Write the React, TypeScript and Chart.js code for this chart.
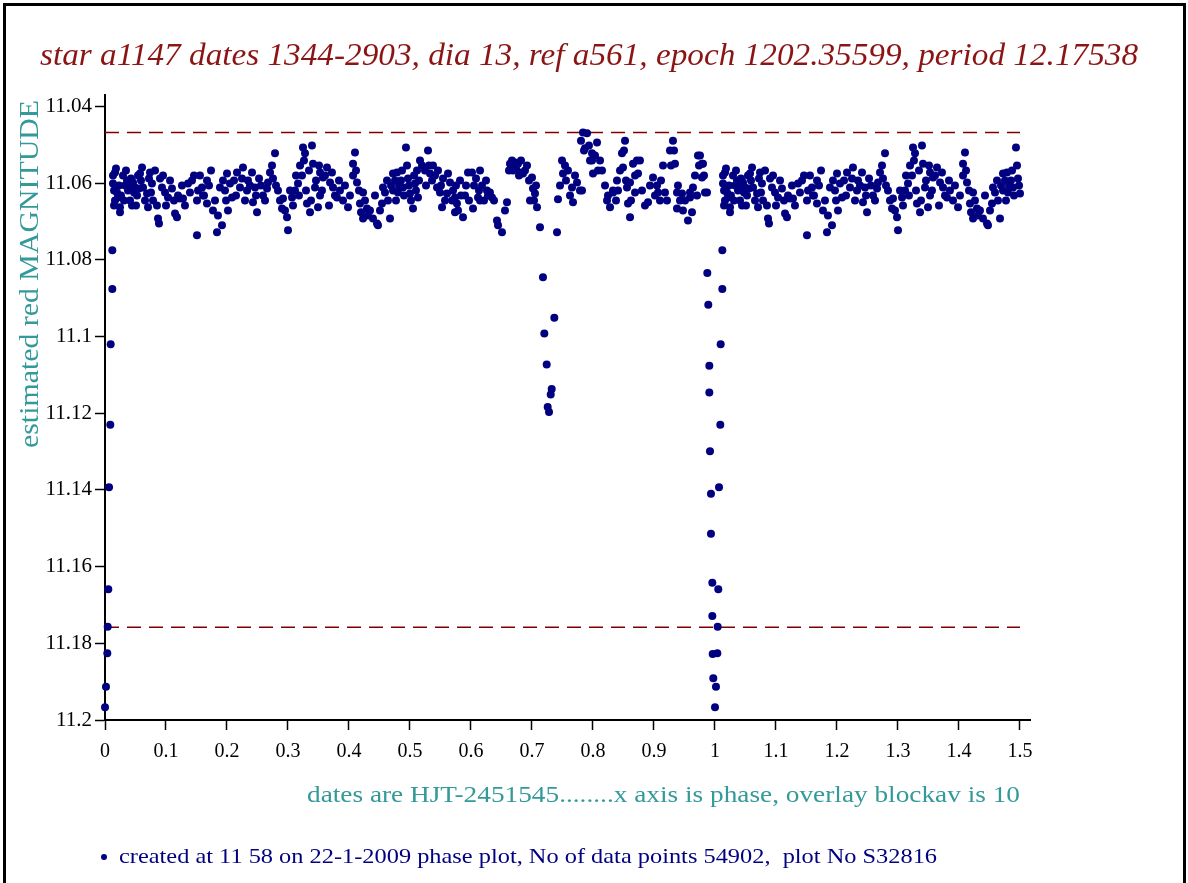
import React, { useEffect, useRef } from 'react';
import { Chart, registerables } from 'chart.js';

Chart.register(...registerables);

// ---------- text ----------
const titleText = 'star a1147 dates 1344-2903, dia 13, ref a561, epoch 1202.35599, period 12.17538';
const yAxisTitle = 'estimated red MAGNITUDE';
const xAxisTitle = 'dates are HJT-2451545........x axis is phase, overlay blockav is 10';
const footerText = 'created at 11 58 on 22-1-2009 phase plot, No of data points 54902,  plot No S32816';

// ---------- ticks ----------
const xTickValues = [0, 0.1, 0.2, 0.3, 0.4, 0.5, 0.6, 0.7, 0.8, 0.9, 1, 1.1, 1.2, 1.3, 1.4, 1.5];
const xTickLabels = ['0', '0.1', '0.2', '0.3', '0.4', '0.5', '0.6', '0.7', '0.8', '0.9', '1', '1.1', '1.2', '1.3', '1.4', '1.5'];
const yTickValues = [11.04, 11.06, 11.08, 11.1, 11.12, 11.14, 11.16, 11.18, 11.2];
const yTickLabels = ['11.04', '11.06', '11.08', '11.1', '11.12', '11.14', '11.16', '11.18', '11.2'];

// ---------- reference lines ----------
const upperLimit = 11.0468;
const lowerLimit = 11.1758;
const limitSpan = [0, 1.5];

// ---------- phase data (phase, magnitude), phase 0..1 ----------
const bandA: [number, number][] = [
  [0.0164, 11.0572], [0.0131, 11.0601], [0.0197, 11.0624], [0.0213, 11.0637], [0.0246, 11.0663], [0.0246, 11.0676],
  [0.0295, 11.058], [0.0328, 11.0606], [0.0361, 11.0593], [0.0377, 11.0619], [0.041, 11.0645], [0.0443, 11.0658],
  [0.0459, 11.0598], [0.0492, 11.0611], [0.0525, 11.0632], [0.0607, 11.0559], [0.0574, 11.0575], [0.0623, 11.0611],
  [0.0689, 11.0627], [0.0738, 11.0572], [0.077, 11.0601], [0.0787, 11.0645], [0.0705, 11.0663], [0.0869, 11.0692],
  [0.0885, 11.0705], [0.0902, 11.0588], [0.0934, 11.0611], [0.0984, 11.0624], [0.1033, 11.0637], [0.1098, 11.0614],
  [0.1148, 11.0679], [0.118, 11.0689], [0.123, 11.064], [0.1279, 11.064], [0.1361, 11.0601], [0.1426, 11.0593],
  [0.1508, 11.0736], [0.1508, 11.0645], [0.1557, 11.058], [0.159, 11.0611], [0.1607, 11.0632], [0.1672, 11.0593],
  [0.1672, 11.0653], [0.177, 11.0671], [0.1836, 11.0728], [0.1852, 11.0684], [0.1918, 11.071], [0.1885, 11.0611],
  [0.1967, 11.0619], [0.2016, 11.0671], [0.2, 11.0575], [0.2049, 11.0601], [0.2082, 11.0637], [0.2164, 11.0572],
  [0.2213, 11.0611], [0.2262, 11.0559], [0.2328, 11.0619], [0.2344, 11.0593], [0.241, 11.0572], [0.2426, 11.065],
  [0.2492, 11.0676], [0.2459, 11.0611],
  [0.0131, 11.058], [0.0148, 11.0619], [0.0164, 11.0645], [0.0148, 11.0658], [0.018, 11.0562], [0.023, 11.0606],
  [0.0262, 11.0632], [0.0311, 11.0645], [0.0344, 11.0567], [0.0393, 11.0606], [0.0426, 11.0588], [0.0475, 11.0624],
  [0.0508, 11.0658], [0.0541, 11.058], [0.0557, 11.0614],
  [0.059, 11.0593], [0.0656, 11.0645], [0.0721, 11.0588], [0.0754, 11.0624], [0.082, 11.0567], [0.0852, 11.0658],
  [0.0951, 11.058], [0.1, 11.0658], [0.1066, 11.0593], [0.1131, 11.0645], [0.1197, 11.0632], [0.1262, 11.0606],
  [0.1311, 11.0658], [0.1393, 11.0624], [0.1459, 11.058], [0.1525, 11.0619],
  [0.1623, 11.0632], [0.1705, 11.0606], [0.1738, 11.0567], [0.1803, 11.0645], [0.1934, 11.0593], [0.1984, 11.0645],
  [0.2115, 11.0593], [0.2148, 11.0632], [0.2246, 11.0588], [0.2295, 11.0645], [0.2377, 11.0606], [0.2475, 11.0632],
];

const bandB: [number, number][] = [
  [0.259, 11.0632], [0.2656, 11.0614], [0.2705, 11.0572], [0.2787, 11.0522], [0.2754, 11.0588], [0.2836, 11.0619],
  [0.2902, 11.0666], [0.2918, 11.064], [0.2984, 11.0689], [0.3, 11.0723], [0.3066, 11.0637], [0.3115, 11.0619],
  [0.3164, 11.0601], [0.323, 11.058], [0.3246, 11.0507], [0.3393, 11.0502], [0.3279, 11.0522], [0.341, 11.0549],
  [0.3525, 11.0572], [0.3361, 11.0676], [0.3311, 11.0653], [0.3443, 11.0611], [0.3639, 11.0559], [0.3689, 11.0598],
  [0.3574, 11.0585], [0.3738, 11.0611], [0.3852, 11.0619], [0.3803, 11.0637], [0.3525, 11.0632], [0.3492, 11.0663],
  [0.3984, 11.0663], [0.4066, 11.0549], [0.4098, 11.052], [0.4066, 11.058], [0.4131, 11.0598], [0.423, 11.0624],
  [0.4295, 11.0666], [0.423, 11.0692], [0.4311, 11.0684], [0.418, 11.0653], [0.4459, 11.0705], [0.4475, 11.071],
  [0.4541, 11.0653], [0.4672, 11.0692], [0.4623, 11.0593], [0.4721, 11.0575], [0.4721, 11.0619], [0.4787, 11.0572],
  [0.4803, 11.0624], [0.4557, 11.0611], [0.4934, 11.0507], [0.4869, 11.0567], [0.4885, 11.0611], [0.4967, 11.0588],
  [0.2525, 11.0588], [0.2557, 11.0606], [0.2623, 11.0645], [0.2672, 11.0598], [0.2738, 11.0554], [0.2803, 11.0606],
  [0.2869, 11.0645], [0.2951, 11.0671], [0.3033, 11.0619], [0.3082, 11.0658], [0.3131, 11.058], [0.318, 11.0632],
  [0.3197, 11.0554],
  [0.3262, 11.0541], [0.3295, 11.0619], [0.3344, 11.0567], [0.3377, 11.0645], [0.3459, 11.0593], [0.3508, 11.0554],
  [0.3557, 11.0619], [0.3607, 11.058], [0.3672, 11.0658], [0.3721, 11.0572], [0.377, 11.0632], [0.3836, 11.0593],
  [0.3902, 11.0645], [0.3934, 11.0606], [0.4016, 11.0632], [0.4115, 11.0567], [0.4164, 11.0619],
  [0.4197, 11.0676], [0.4262, 11.0645], [0.4344, 11.0671], [0.4393, 11.0692], [0.4426, 11.0632], [0.4508, 11.0671],
  [0.459, 11.0624], [0.4639, 11.0645], [0.4689, 11.0606], [0.4754, 11.0593], [0.477, 11.0645], [0.482, 11.0606],
  [0.4852, 11.0593], [0.4902, 11.0632], [0.4951, 11.0554], [0.4984, 11.0606],
];

const bandC: [number, number][] = [
  [0.5, 11.0627], [0.5049, 11.0666], [0.5082, 11.0601], [0.5131, 11.0637], [0.5164, 11.0541], [0.5115, 11.0567],
  [0.5295, 11.0515], [0.5246, 11.0567], [0.5328, 11.0575], [0.5377, 11.0554], [0.5361, 11.0593], [0.5443, 11.0611],
  [0.5492, 11.0624], [0.5525, 11.0663], [0.5541, 11.0588], [0.5607, 11.0627], [0.5623, 11.0575], [0.5705, 11.0619],
  [0.5738, 11.0637], [0.5738, 11.0676], [0.577, 11.0653], [0.5869, 11.0689], [0.582, 11.0593], [0.5902, 11.0632],
  [0.5951, 11.0572], [0.6016, 11.0572], [0.6033, 11.0666], [0.6115, 11.0637], [0.6148, 11.0567], [0.618, 11.0606],
  [0.6148, 11.0645], [0.6279, 11.0632], [0.6344, 11.0637], [0.6262, 11.0619], [0.6443, 11.071], [0.6508, 11.0728],
  [0.6426, 11.0697], [0.659, 11.065], [0.6557, 11.0671], [0.6639, 11.0549], [0.6721, 11.0546], [0.677, 11.0549],
  [0.6689, 11.0567], [0.6803, 11.0572], [0.6852, 11.0575], [0.6918, 11.0554], [0.7, 11.0585], [0.7016, 11.0614],
  [0.7049, 11.0627], [0.6967, 11.0645], [0.7082, 11.0663], [0.7131, 11.0715], [0.741, 11.0728], [0.7426, 11.0642],
  [0.7492, 11.0541],
  [0.5016, 11.0645], [0.5066, 11.058], [0.5098, 11.0619], [0.5148, 11.0593], [0.5197, 11.0554], [0.5262, 11.0606],
  [0.5311, 11.0554], [0.541, 11.058], [0.5459, 11.0567], [0.5508, 11.0606], [0.5574, 11.0645], [0.5656, 11.0598],
  [0.5689, 11.0645], [0.5754, 11.0606], [0.5787, 11.0671], [0.5836, 11.0632], [0.5918, 11.0606], [0.5967, 11.0645],
  [0.6049, 11.0606], [0.6082, 11.0588], [0.6131, 11.0619], [0.6213, 11.0645], [0.6246, 11.0593], [0.6311, 11.0624],
  [0.6377, 11.0645],
  [0.6623, 11.0567], [0.6672, 11.0541], [0.6738, 11.0562], [0.6787, 11.058], [0.682, 11.0541], [0.6885, 11.0567],
  [0.6951, 11.0593], [0.7033, 11.0645], [0.7066, 11.0606],
  [0.7459, 11.0606],
];

const bandD: [number, number][] = [
  [0.7508, 11.0575], [0.759, 11.0567], [0.7656, 11.0611], [0.7672, 11.065], [0.7738, 11.0598], [0.782, 11.0619],
  [0.7836, 11.0468], [0.7902, 11.047], [0.7869, 11.0509], [0.7984, 11.0522], [0.8066, 11.0494], [0.7984, 11.0541],
  [0.8, 11.0575], [0.8115, 11.0541], [0.8148, 11.0567], [0.8246, 11.0632], [0.8279, 11.0663], [0.8328, 11.0624],
  [0.841, 11.0619], [0.8475, 11.0522], [0.8525, 11.0489], [0.8492, 11.0559], [0.8557, 11.0611], [0.8607, 11.0598],
  [0.8574, 11.0653], [0.8607, 11.0689], [0.8656, 11.0549], [0.8738, 11.0575], [0.877, 11.0541], [0.8689, 11.0624],
  [0.8902, 11.065], [0.8984, 11.0585], [0.9049, 11.0606], [0.9066, 11.0624], [0.9148, 11.0554], [0.918, 11.0624],
  [0.9098, 11.0645], [0.9262, 11.0515], [0.9311, 11.0489], [0.9344, 11.0549], [0.9377, 11.0624], [0.9426, 11.0645],
  [0.9377, 11.0666], [0.9475, 11.0671], [0.9557, 11.0697], [0.9639, 11.0611], [0.9721, 11.0528], [0.9787, 11.0549],
  [0.9787, 11.0585], [0.9836, 11.0624], [0.9705, 11.0632], [0.9459, 11.0627], [0.959, 11.0637], [0.9623, 11.0676],
  [0.9754, 11.0528], [0.9803, 11.0549], [0.9869, 11.0624],
  [0.7541, 11.0554], [0.7557, 11.0593], [0.7623, 11.0632], [0.7705, 11.058], [0.7787, 11.0619], [0.7803, 11.0489],
  [0.7852, 11.0515], [0.7934, 11.0502], [0.7951, 11.0541], [0.8033, 11.0528], [0.8082, 11.0567],
  [0.8197, 11.0606], [0.823, 11.0645], [0.8328, 11.0619], [0.8393, 11.0593], [0.8377, 11.0645], [0.8443, 11.0567],
  [0.8508, 11.0515], [0.8541, 11.0593], [0.8623, 11.0645], [0.8689, 11.058], [0.872, 11.0541], [0.8803, 11.0619],
  [0.8852, 11.0658], [0.8934, 11.0606], [0.9016, 11.0632], [0.9115, 11.0593], [0.9213, 11.0645], [0.9279, 11.0554],
  [0.9328, 11.0515], [0.9393, 11.0606], [0.9508, 11.0645], [0.959, 11.0624], [0.9672, 11.058], [0.9738, 11.0554],
  [0.982, 11.058],
];

// primary eclipse, egress side just after phase 0
const dipPrimary: [number, number][] = [
  [0.012, 11.0775], [0.012, 11.0876], [0.0093, 11.102], [0.0087, 11.123], [0.0066, 11.1393],
  [0.0054, 11.1659], [0.0044, 11.1757], [0.0038, 11.1826], [0.0016, 11.1913], [0.0, 11.1967],
];

// primary eclipse, side just before phase 1
const dipPrimaryLate: [number, number][] = [
  [0.9874, 11.0834], [0.989, 11.0917], [0.9907, 11.1076], [0.9907, 11.1146], [0.9918, 11.1299], [0.9934, 11.141],
  [0.9934, 11.1514], [0.9956, 11.1642], [0.9956, 11.1729], [0.9962, 11.1828], [0.9972, 11.1891],
];

// secondary eclipse
const dipSecondary: [number, number][] = [
  [0.718, 11.0845], [0.7366, 11.0951], [0.7202, 11.0992], [0.7241, 11.1073],
  [0.7323, 11.1137], [0.7307, 11.1151], [0.7257, 11.1184], [0.7279, 11.1197],
];

const TEAL = '#339999';
const NAVY = '#000080';
const DARKRED = '#8B1414';
const SERIF = '"Liberation Serif", "Times New Roman", serif';

function fittedText(
  ctx: CanvasRenderingContext2D,
  text: string,
  x: number,
  y: number,
  targetWidth: number,
  align: CanvasTextAlign,
  rotate = 0,
) {
  const w = ctx.measureText(text).width;
  const sx = w > 0 ? targetWidth / w : 1;
  ctx.save();
  ctx.translate(x, y);
  if (rotate) ctx.rotate(rotate);
  ctx.scale(sx, 1);
  ctx.textAlign = align;
  ctx.fillText(text, 0, 0);
  ctx.restore();
}

const textPlugin = {
  id: 'pageTexts',
  afterDraw(chart: any) {
    const ctx: CanvasRenderingContext2D = chart.ctx;
    ctx.save();
    ctx.textBaseline = 'alphabetic';
    // frame
    ctx.strokeStyle = '#000';
    ctx.lineWidth = 3;
    ctx.strokeRect(4.5, 4.5, 1180, 900);
    // title
    ctx.fillStyle = DARKRED;
    ctx.font = 'italic 32px ' + SERIF;
    fittedText(ctx, titleText, 589, 65, 1098, 'center');
    // y title
    ctx.fillStyle = TEAL;
    ctx.font = '27px ' + SERIF;
    fittedText(ctx, yAxisTitle, 38, 100, 348, 'right', -Math.PI / 2);
    // x title
    ctx.font = '24px ' + SERIF;
    fittedText(ctx, xAxisTitle, 1020, 802, 713, 'right');
    // footer
    ctx.fillStyle = NAVY;
    ctx.beginPath();
    ctx.arc(104, 857, 3, 0, Math.PI * 2);
    ctx.fill();
    ctx.font = '21px ' + SERIF;
    fittedText(ctx, footerText, 119, 863, 818, 'left');
    ctx.restore();
  },
};

export default function App() {
  const canvasRef = useRef<HTMLCanvasElement | null>(null);

  useEffect(() => {
    const canvas = canvasRef.current;
    if (!canvas) return;
    const base = [...bandA, ...bandB, ...bandC, ...bandD, ...dipPrimary, ...dipPrimaryLate, ...dipSecondary];
    const pts = base.map(([x, y]) => ({ x, y }));
    // phase overlay: phases 0..0.5 repeated after phase 1
    const overlay = base.filter(([x]) => x <= 0.5).map(([x, y]) => ({ x: x + 1, y }));

    const chart = new Chart(canvas, {
      type: 'scatter',
      data: {
        datasets: [
          {
            label: 'phase',
            data: [...pts, ...overlay],
            backgroundColor: NAVY,
            borderWidth: 0,
            pointRadius: 4,
            pointHoverRadius: 4,
            clip: false as any,
          },
          {
            label: 'upper',
            data: limitSpan.map((x) => ({ x, y: upperLimit })),
            showLine: true,
            borderColor: '#800000',
            borderWidth: 1.5,
            borderDash: [14, 8],
            pointRadius: 0,
          },
          {
            label: 'lower',
            data: limitSpan.map((x) => ({ x, y: lowerLimit })),
            showLine: true,
            borderColor: '#800000',
            borderWidth: 1.5,
            borderDash: [14, 8],
            pointRadius: 0,
          },
        ],
      },
      options: {
        animation: false,
        responsive: false,
        maintainAspectRatio: false,
        devicePixelRatio: 1,
        layout: { padding: { left: 0, top: 95, right: 158, bottom: 0 } },
        plugins: { legend: { display: false }, tooltip: { enabled: false }, title: { display: false } },
        events: [],
        scales: {
          x: {
            type: 'linear',
            min: 0,
            max: 1.5164,
            afterBuildTicks: (s: any) => {
              s.ticks = xTickValues.map((v) => ({ value: v }));
            },
            afterFit: (s: any) => {
              s.height = 163;
            },
            ticks: {
              autoSkip: false,
              maxRotation: 0,
              color: '#000',
              padding: 10,
              font: { family: SERIF, size: 20 },
              callback: (v: any) => {
                const i = xTickValues.findIndex((t) => Math.abs(t - Number(v)) < 1e-9);
                return i >= 0 ? xTickLabels[i] : '';
              },
            },
            grid: { drawOnChartArea: false, drawTicks: true, tickLength: 10, tickColor: '#000', tickWidth: 1.5 },
            border: { display: true, color: '#000', width: 2 },
          },
          y: {
            type: 'linear',
            reverse: true,
            min: 11.037,
            max: 11.2,
            afterBuildTicks: (s: any) => {
              s.ticks = yTickValues.map((v) => ({ value: v }));
            },
            afterFit: (s: any) => {
              s.width = 105;
            },
            ticks: {
              autoSkip: false,
              color: '#000',
              padding: 3,
              font: { family: SERIF, size: 21 },
              callback: (v: any) => {
                const i = yTickValues.findIndex((t) => Math.abs(t - Number(v)) < 1e-9);
                return i >= 0 ? yTickLabels[i] : '';
              },
            },
            grid: { drawOnChartArea: false, drawTicks: true, tickLength: 10, tickColor: '#000', tickWidth: 1.5 },
            border: { display: true, color: '#000', width: 2 },
          },
        },
      },
      plugins: [textPlugin],
    });
    return () => chart.destroy();
  }, []);

  return (
    <div style={{ position: 'absolute', left: 0, top: 0, width: 1188, height: 883, background: '#fff' }}>
      <canvas ref={canvasRef} width={1188} height={883} style={{ display: 'block', width: 1188, height: 883 }} />
    </div>
  );
}
